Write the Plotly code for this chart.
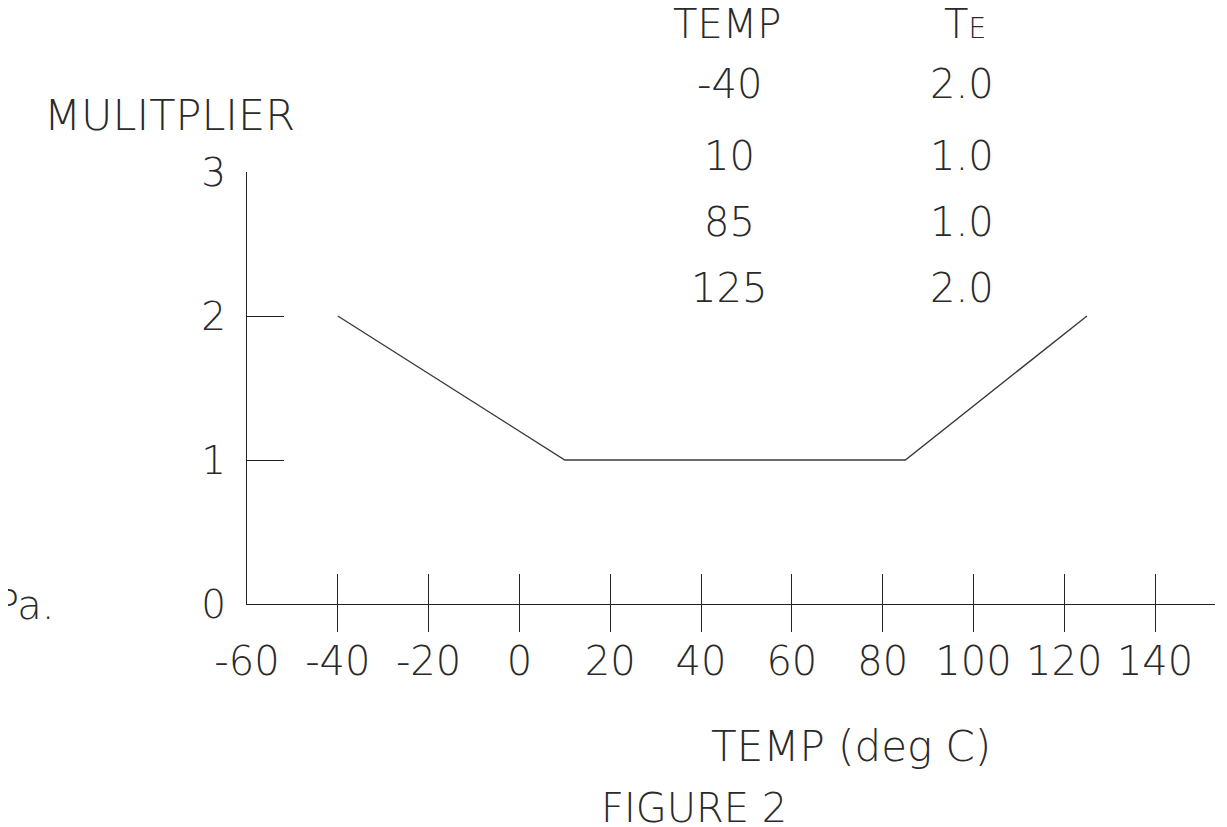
import plotly.graph_objects as go

# ---- data ----
temps = [-40, 10, 85, 125]
multiplier = [2.0, 1.0, 1.0, 2.0]
x_tick_vals = [-60, -40, -20, 0, 20, 40, 60, 80, 100, 120, 140]
x_tick_text = ["-60", "-40", "-20", "0", "20", "40", "60", "80", "100", "120", "140"]
y_tick_vals = [0, 1, 2, 3]
y_tick_text = ["0", "1", "2", "3"]
table_header = ["TEMP", "T<span style='font-size:28px'>E</span>"]

W, H = 1227, 827
OFF = 8  # page body margin offset
# desired plot-area edges in window pixels
L, R, T, B = 247, 1215, 172, 604
FONT = "DejaVu Sans"
TXT = "#2a2a2a"


def px(xp):
    return (xp - L) / (R - L)


def py(yp):
    return (B - yp) / (B - T)


fig = go.Figure()
fig.add_trace(go.Scatter(x=temps, y=multiplier, mode="lines",
                         line=dict(color="#3a3a3a", width=1.4),
                         hoverinfo="skip", showlegend=False))
# companion trace for the overlay axis carrying the outward tick marks
fig.add_trace(go.Scatter(x=temps, y=multiplier, mode="lines", xaxis="x2",
                         line=dict(color="rgba(0,0,0,0)", width=0),
                         hoverinfo="skip", showlegend=False))

xr = [-60, 153.2]
fig.update_layout(
    width=W, height=H,
    margin=dict(l=L - OFF, r=W - (R - OFF), t=T - OFF, b=H - (B - OFF)),
    paper_bgcolor="white", plot_bgcolor="white",
    font=dict(family=FONT, color=TXT, size=40, weight=200),
    xaxis=dict(range=xr, tickmode="array", tickvals=x_tick_vals,
               ticktext=x_tick_text, ticks="inside", ticklen=30,
               tickwidth=1.2, tickcolor="#222", showline=True,
               linecolor="#222", linewidth=1.4, showgrid=False,
               zeroline=False, ticklabelstandoff=22,
               tickfont=dict(family=FONT, size=40, color=TXT, weight=200)),
    xaxis2=dict(range=xr, overlaying="x", side="bottom", tickmode="array",
                tickvals=x_tick_vals[1:], ticks="outside", ticklen=27,
                tickwidth=1.2, tickcolor="#222", showticklabels=False,
                showline=False, showgrid=False, zeroline=False),
    yaxis=dict(range=[0, 3], tickmode="array", tickvals=y_tick_vals,
               ticktext=y_tick_text, ticks="inside", ticklen=37,
               tickwidth=1.2, tickcolor="#222", showline=True,
               linecolor="#222", linewidth=1.4, showgrid=False,
               zeroline=False, ticklabelstandoff=12,
               tickfont=dict(family=FONT, size=39, color=TXT, weight=200)),
)


def add_text(text, xp, yp, anchor="center", size=40):
    fig.add_annotation(text=text, xref="paper", yref="paper",
                       x=px(xp), y=py(yp), xanchor=anchor, yanchor="middle",
                       showarrow=False,
                       font=dict(family=FONT, size=size, color=TXT, weight=200))


add_text("MULITPLIER", 169, 115, size=43)
add_text(table_header[0], 727, 24)
add_text(table_header[1], 965, 24)
row_y = [84, 156, 222, 288]
for t, m, yy in zip(temps, multiplier, row_y):
    add_text(str(t), 729, yy)
    add_text(f"{m:.1f}", 962, yy)
add_text("Pa.", 57, 605, anchor="right")
add_text("TEMP (deg C)", 851, 746, size=42)
add_text("FIGURE 2", 694, 808)

fig.write_html("out.html")
